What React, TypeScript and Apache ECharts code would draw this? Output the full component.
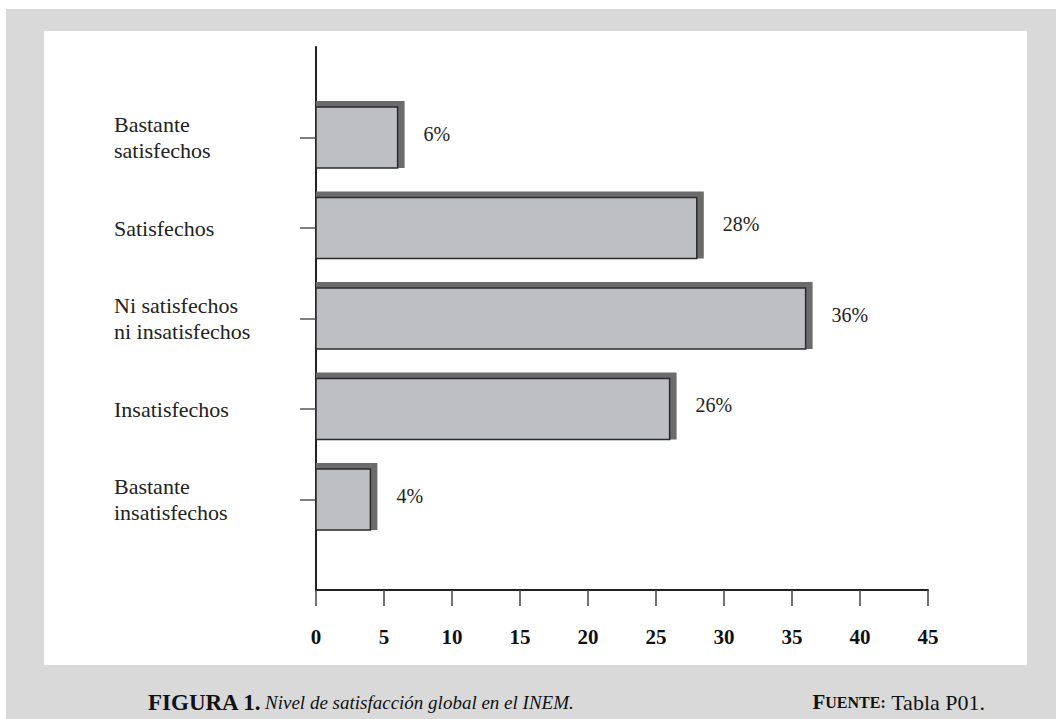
import React, { useEffect, useRef } from "react";
import * as echarts from "echarts";

// Satisfaction levels, listed bottom to top; the empty slots keep a free band at each end of the axis.
const categories: string[] = [
  "",
  "Bastante\ninsatisfechos",
  "Insatisfechos",
  "Ni satisfechos\nni insatisfechos",
  "Satisfechos",
  "Bastante\nsatisfechos",
  "",
];
const levels: string[] = categories.slice(1, 6);
const percentages: number[] = [4, 26, 36, 28, 6];
const xTicks: number[] = [0, 5, 10, 15, 20, 25, 30, 35, 40, 45];

const SERIF = "'Liberation Serif', 'Times New Roman', serif";

export default function App() {
  const ref = useRef<HTMLDivElement>(null);

  useEffect(() => {
    if (!ref.current) return;
    const chart = echarts.init(ref.current, null, { renderer: "svg" });

    const barData = levels.map((name, i) => [percentages[i], name]);

    chart.setOption({
      animation: false,
      backgroundColor: "#ffffff",
      graphic: [
        {
          type: "rect",
          z: -10,
          silent: true,
          shape: { x: 6, y: 9, width: 1050, height: 710 },
          style: { fill: "#d9d9d9" },
        },
        {
          type: "rect",
          z: -9,
          silent: true,
          shape: { x: 44, y: 31, width: 983, height: 634 },
          style: { fill: "#ffffff" },
        },
        {
          type: "text",
          x: 148,
          y: 702,
          style: {
            text: "{b|FIGURA 1.} {i|Nivel de satisfacción global en el INEM.}",
            verticalAlign: "middle",
            rich: {
              b: { fontFamily: SERIF, fontWeight: "bold", fontSize: 23, fill: "#111" },
              i: { fontFamily: SERIF, fontStyle: "italic", fontSize: 19, fill: "#111" },
            },
          },
        },
        {
          type: "text",
          x: 985,
          y: 702,
          style: {
            text: "{big|F}{small|UENTE:}{n| Tabla P01.}",
            align: "right",
            verticalAlign: "middle",
            rich: {
              big: { fontFamily: SERIF, fontWeight: "bold", fontSize: 21, fill: "#111" },
              small: { fontFamily: SERIF, fontWeight: "bold", fontSize: 16, fill: "#111" },
              n: { fontFamily: SERIF, fontSize: 22, fill: "#111" },
            },
          },
        },
      ],
      grid: { left: 316, right: 128, top: 47, bottom: 129, containLabel: false },
      xAxis: {
        type: "value",
        min: 0,
        max: 45,
        interval: 5,
        splitLine: { show: false },
        axisLine: { show: true, lineStyle: { color: "#222", width: 2 } },
        axisTick: { show: true, length: 16, lineStyle: { color: "#444", width: 1.5 } },
        axisLabel: {
          margin: 36,
          fontFamily: SERIF,
          fontWeight: "bold",
          fontSize: 21,
          color: "#111",
          formatter: (v: number) => (xTicks.includes(v) ? String(v) : ""),
        },
      },
      yAxis: {
        type: "category",
        data: categories,
        boundaryGap: false,
        axisLine: { show: true, lineStyle: { color: "#222", width: 2 } },
        axisTick: {
          show: true,
          length: 16,
          interval: (index: number) => index !== 0 && index !== categories.length - 1,
          lineStyle: { color: "#555", width: 1.5 },
        },
        axisLabel: {
          margin: 202,
          align: "left",
          fontFamily: SERIF,
          fontSize: 22,
          lineHeight: 26,
          color: "#222",
        },
        splitLine: { show: false },
      },
      series: [
        {
          type: "custom",
          encode: { x: 0, y: 1 },
          data: barData,
          renderItem: (params: any, api: any) => {
            const v = api.value(0);
            const c = api.value(1);
            const p0 = api.coord([0, c]);
            const p1 = api.coord([v, c]);
            const h = 61;
            const top = p0[1] - h / 2;
            const w = p1[0] - p0[0];
            return {
              type: "group",
              children: [
                {
                  type: "rect",
                  shape: { x: p0[0], y: top - 6, width: w + 7, height: h + 6 },
                  style: { fill: "#6b6b6b" },
                },
                {
                  type: "rect",
                  shape: { x: p0[0], y: top, width: w, height: h },
                  style: { fill: "#bebfc3", stroke: "#2b2b2b", lineWidth: 1.5 },
                },
                {
                  type: "text",
                  x: p1[0] + 26,
                  y: p0[1] - 4,
                  style: {
                    text: `${v}%`,
                    fontFamily: SERIF,
                    fontSize: 20,
                    fill: "#222",
                    verticalAlign: "middle",
                  },
                },
              ],
            };
          },
        },
      ],
    });

    return () => chart.dispose();
  }, []);

  return (
    <div
      ref={ref}
      style={{ position: "fixed", left: 0, top: 0, width: 1056, height: 719 }}
    />
  );
}
